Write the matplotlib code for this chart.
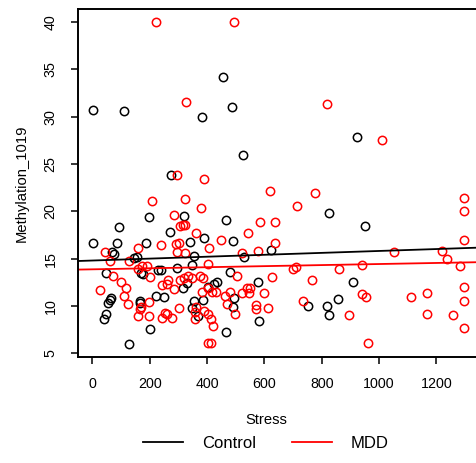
import numpy as np
import matplotlib
matplotlib.use("Agg")
import matplotlib.pyplot as plt
from matplotlib.lines import Line2D

# values
ctrl_stress = [0.6, 111, 381, 455.5, 488, 526, 275, 196, 318, 91.4, 269.5, 0.7, 84.5, 188,
               341.5, 388, 465, 490.4, 624, 68, 74, 146, 156, 353, 530, 177, 170, 48,
               229.7, 239, 295, 347, 330, 316, 65.6, 60, 54, 47, 39, 126, 167, 167, 199.5,
               223, 248.5, 353, 384, 348, 368, 481, 576.6, 434.6, 425, 404, 495, 491.5,
               581, 466, 751, 818.5, 825, 858, 909, 826.5, 950, 922]
ctrl_meth = [30.74, 30.63, 29.97, 34.16, 31.02, 25.95, 23.81, 19.43, 19.54, 18.35, 17.78,
             16.66, 16.69, 16.69, 16.79, 17.15, 19.12, 16.87, 15.88, 15.67, 15.46, 15.1,
             15.2, 15.32, 15.14, 13.38, 13.5, 13.45, 13.8, 13.8, 13.98, 14.33, 12.4, 11.94,
             10.81, 10.63, 10.35, 9.16, 8.63, 6.02, 10.53, 10.29, 7.54, 11.1, 10.95, 10.53,
             10.63, 9.82, 8.98, 13.62, 12.57, 12.57, 12.3, 12.04, 10.81, 9.86, 8.46, 7.29,
             10.0, 10.0, 9.05, 10.74, 12.5, 19.82, 18.48, 27.89]

mdd_stress = [221.6, 492.8, 326, 819.6, 1010.5, 294, 388, 620, 776.6, 1296, 207, 324, 377.6,
              714, 1296, 286, 305.4, 316, 323, 362, 585, 637, 544, 239, 292.5, 301, 449.6,
              637, 1296, 407, 160, 44, 294, 324, 520.6, 576.6, 1051, 1220, 1237, 62, 128.5,
              404, 941.8, 1283, 159, 173, 190, 701, 709, 860, 202, 72, 503, 625.5, 767,
              100.5, 117, 26, 111, 124, 170, 164.5, 158, 198, 198, 253, 260.5, 244, 277.5,
              262.5, 244, 260, 283, 306.5, 318, 333, 348, 376, 386, 403, 357, 402, 412.6,
              301, 362, 358, 389, 404, 413.6, 421, 382, 416, 430, 480, 462.5, 520.6, 540,
              549, 546, 597.6, 469.5, 497, 569.6, 569.6, 611.5, 736, 939, 954.6, 1111.7,
              1167.5, 1296.7, 1296.7, 894, 1167.5, 1257.6, 1296.7, 962.6]
mdd_meth = [40.0, 40.0, 31.52, 31.37, 27.5, 23.81, 23.42, 22.18, 21.94, 21.44, 21.05, 21.25,
            20.4, 20.56, 20.07, 19.6, 18.45, 18.52, 18.59, 17.75, 18.91, 18.91, 17.68, 16.48,
            16.55, 16.66, 16.97, 16.62, 16.97, 16.1, 16.1, 15.7, 15.7, 15.57, 15.64, 15.84,
            15.67, 15.84, 14.95, 14.79, 14.75, 14.44, 14.33, 14.2, 13.88, 14.23, 14.23,
            13.91, 14.12, 13.91, 13.03, 13.2, 13.14, 13.08, 12.78, 12.54, 11.87, 11.69,
            11.03, 10.18, 9.93, 9.68, 8.94, 10.46, 8.94, 9.26, 9.16, 8.77, 8.77, 12.78,
            12.22, 12.29, 11.83, 12.75, 12.99, 13.17, 12.99, 13.2, 12.93, 11.94, 9.4, 6.06,
            6.06, 9.79, 9.93, 8.6, 9.5, 9.2, 8.63, 7.85, 11.51, 11.51, 11.51, 11.51, 11.06,
            11.4, 11.9, 11.94, 11.4, 11.34, 10.18, 9.16, 10.1, 9.68, 9.82, 10.53, 11.27,
            10.95, 10.99, 11.37, 12.01, 10.53, 9.08, 9.16, 9.08, 7.68, 6.12]

# fitted lines (intercept, slope)
ctrl_fit = (14.80, 0.00101)
mdd_fit = (13.87, 0.00056)

groups = ["Control", "MDD"]
colors = ["black", "red"]

plt.rcParams.update({"font.family": ["Liberation Sans", "DejaVu Sans"], "font.size": 10.3})

W, H = 477, 463
fig = plt.figure(figsize=(W / 100, H / 100), dpi=100)
# plot region: x -52..1352, y 4.64..41.36 (R style 4% padding); right edge falls off the image
x0, x1 = 77.6, 479.9
y0, y1 = 9.1, 356.7
ax = fig.add_axes([x0 / W, 1 - y1 / H, (x1 - x0) / W, (y1 - y0) / H])

ax.plot(ctrl_stress, ctrl_meth, "o", mfc="none", mec=colors[0], ms=6, mew=1.1)
ax.plot(mdd_stress, mdd_meth, "o", mfc="none", mec=colors[1], ms=6, mew=1.1)
for (b0, b1), c in zip([ctrl_fit, mdd_fit], colors):
    ax.axline((0, b0), slope=b1, color=c, lw=1.3)

ax.set_xlim(-52, 1352)
ax.set_ylim(4.64, 41.36)
ax.set_xticks(np.arange(0, 1201, 200))
ax.set_yticks(np.arange(5, 41, 5))
for s in ax.spines.values():
    s.set_linewidth(1.4)
ax.tick_params(length=5, width=1.1, pad=9.5)
ax.tick_params(axis="y", labelrotation=90)
for lab in ax.get_yticklabels():
    lab.set_va("center")

ax.set_xlabel("Stress", fontsize=10.6)
ax.xaxis.set_label_coords((266 - x0) / (x1 - x0), -(420 - y1) / (y1 - y0))
ax.xaxis.label.set_va("center")
ax.set_ylabel("Methylation_1019", fontsize=10.6)
ax.yaxis.set_label_coords(-(x0 - 22) / (x1 - x0), 0.5)
ax.yaxis.label.set_va("center")

handles = [Line2D([], [], color=c, lw=1.3) for c in colors]
fig.legend(handles, groups, loc="center", bbox_to_anchor=(266 / W, 1 - 443 / H),
           ncol=2, frameon=False, fontsize=12, handlelength=2.4, handletextpad=1.1,
           columnspacing=2.2)

fig.savefig("out.png", dpi=100)
